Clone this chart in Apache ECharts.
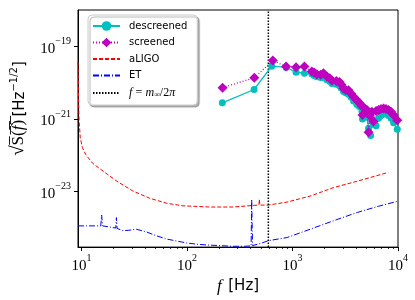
<!DOCTYPE html>
<html><head><meta charset="utf-8">
<script src="https://cdn.jsdelivr.net/npm/echarts@6/dist/echarts.min.js"></script>
<style>html,body{margin:0;padding:0;background:#fff}#c{width:415px;height:300px}</style>
</head><body><div id="c"></div>
<script>
// ---- data ----
const descF = [216, 432, 635, 869, 1081, 1297, 1524, 1600, 1701, 1850, 1965, 2118, 2250, 2362, 2600, 2789, 2900, 3042, 3200, 3395, 3600, 3787, 4080, 4300, 4550, 4610, 4800, 5080, 5260, 5500, 5660, 5860, 6200, 6540, 6900, 7300, 7700, 8140, 8600, 9080, 9840];
const descS = [2.79e-21, 6.5e-21, 2.84e-20, 2.63e-20, 1.95e-20, 1.82e-20, 1.74e-20, 1.58e-20, 1.45e-20, 1.38e-20, 1.38e-20, 1.2e-20, 1.1e-20, 9.5e-21, 9.1e-21, 8.3e-21, 7.2e-21, 5.75e-21, 5.25e-21, 4.8e-21, 4.0e-21, 3.16e-21, 2.5e-21, 2.2e-21, 1.66e-21, 1.0e-21, 1.41e-21, 1.12e-21, 5.6e-22, 3.5e-22, 8.9e-22, 7.1e-22, 6.5e-22, 1.05e-21, 1.26e-21, 1.38e-21, 1.38e-21, 1.26e-21, 1.05e-21, 7.9e-22, 5.2e-22];
const scrF = [217, 434, 650, 869, 1081, 1297, 1524, 1600, 1701, 1850, 1965, 2118, 2250, 2362, 2600, 2789, 2900, 3042, 3200, 3395, 3600, 3787, 4080, 4300, 4550, 4610, 4800, 5080, 5260, 5400, 5660, 5860, 6200, 6540, 6900, 7300, 7700, 8140, 8600, 9080, 9840];
const scrS = [7.3e-21, 1.37e-20, 4.07e-20, 2.79e-20, 2.67e-20, 2.79e-20, 2.04e-20, 1.9e-20, 1.70e-20, 1.66e-20, 1.82e-20, 1.48e-20, 1.32e-20, 1.15e-20, 1.12e-20, 1.05e-20, 8.9e-21, 6.9e-21, 6.3e-21, 6.2e-21, 5.0e-21, 4.1e-21, 3.3e-21, 2.8e-21, 2.24e-21, 1.29e-21, 2.0e-21, 1.78e-21, 4.3e-22, 1.26e-21, 1.58e-21, 8.5e-22, 1.66e-21, 1.78e-21, 1.9e-21, 1.95e-21, 1.9e-21, 1.78e-21, 1.58e-21, 1.29e-21, 9.3e-22];
const ligoF = [9.25, 9.37, 9.47, 9.72, 10.2, 10.96, 12.78, 14.9, 21.6, 30.6, 44.4, 64.4, 91.4, 165, 273, 423, 480, 485, 490, 590, 889, 1469, 2427, 4103, 8078];
const ligoS = [3.6e-20, 3.3e-21, 9.3e-22, 3.0e-22, 1.62e-22, 1.05e-22, 6.0e-23, 4.3e-23, 1.95e-23, 1.05e-23, 6.6e-24, 4.8e-24, 4.1e-24, 3.8e-24, 3.8e-24, 4.2e-24, 4.3e-24, 6.2e-24, 4.3e-24, 4.3e-24, 5.2e-24, 7.6e-24, 1.29e-23, 1.95e-23, 3.4e-23];
const etF = [9.25, 12, 15.2, 15.5, 15.8, 18.5, 21.1, 21.4, 21.7, 24.6, 28, 33, 41, 50, 64, 80, 99, 130, 165, 273, 350, 405, 410, 418, 500, 590, 889, 1469, 2427, 4103, 6500, 10000];
const etS = [1.15e-24, 1.15e-24, 1.15e-24, 2.29e-24, 1.15e-24, 1.07e-24, 1.0e-24, 1.95e-24, 9.8e-25, 8.5e-25, 8.7e-25, 9.3e-25, 7.9e-25, 6.3e-25, 5.0e-25, 4.4e-25, 3.9e-25, 3.55e-25, 3.4e-25, 3.16e-25, 3.16e-25, 3.24e-25, 6.2e-24, 3.3e-25, 3.8e-25, 4.5e-25, 5.5e-25, 9.3e-25, 1.58e-24, 2.69e-24, 3.98e-24, 5.5e-24];
const fCut = 590;
const xRange = [9.25, 1e4];
const yRange = [3e-25, 1e-18];
const xMajor = [10, 100, 1000, 10000];
const xMinor = [20, 30, 40, 50, 60, 70, 80, 90, 200, 300, 400, 500, 600, 700, 800, 900, 2000, 3000, 4000, 5000, 6000, 7000, 8000, 9000];
const yMajor = [1e-23, 1e-21, 1e-19];

const pairs = (a, b) => a.map((v, i) => [v, b[i]]);
const SERIF = 'Liberation Serif';
const SANS = 'DejaVu Sans';
const powRich = {
  b: {fontFamily: SERIF, fontSize: 15, color: '#000', padding: [5, 0, 0, 0], verticalAlign: 'bottom'},
  s: {fontFamily: SERIF, fontSize: 10, color: '#000', verticalAlign: 'top'}
};
const powFmt = v => {
  const e = Math.round(Math.log10(v));
  return '{b|10}{s|' + (e < 0 ? '\u2212' + (-e) : e) + '}';
};
const noSym = {opacity: 0};

const chart = echarts.init(document.getElementById('c'), null, {renderer: 'canvas'});
chart.setOption({
  animation: false,
  backgroundColor: '#fff',
  grid: {left: 78, right: 17, top: 10, bottom: 52, show: true, borderColor: '#000', borderWidth: 1, backgroundColor: 'transparent'},
  legend: {
    left: 88, top: 15, orient: 'vertical',
    data: [
      {name: 'descreened'}, {name: 'screened'},
      {name: 'aLIGO', itemStyle: noSym}, {name: 'ET', itemStyle: noSym}, {name: 'fcut', itemStyle: noSym}
    ],
    itemWidth: 27, itemHeight: 12, itemGap: 6.5,
    padding: [6, 10, 6, 4],
    backgroundColor: '#fff', borderColor: '#ccc', borderWidth: 1, borderRadius: 4,
    shadowColor: 'rgba(0,0,0,0.3)', shadowBlur: 1, shadowOffsetX: 2, shadowOffsetY: 2,
    textStyle: {
      fontFamily: SANS, fontSize: 10, color: '#000', padding: [0, 0, 0, 4],
      rich: {
        i: {fontFamily: SERIF, fontStyle: 'italic', fontSize: 12, color: '#000'},
        r: {fontFamily: SERIF, fontSize: 12, color: '#000'},
        sub: {fontFamily: SERIF, fontSize: 8, color: '#000', verticalAlign: 'bottom'}
      }
    },
    formatter: n => n === 'fcut' ? '{i|f} {r|=} {i|m}{sub|\u221e}{r|/2}{i|\u03c0}' : n
  },
  xAxis: [{
    type: 'log', min: xRange[0], max: xRange[1], position: 'bottom',
    axisLine: {show: true, lineStyle: {color: '#000', width: 1}},
    axisTick: {show: true, length: 4, customValues: xMajor, lineStyle: {color: '#000', width: 1}},
    axisLabel: {customValues: xMajor, formatter: powFmt, rich: powRich, margin: 6},
    splitLine: {show: false}, minorTick: {show: false},
    name: '{i|f}  {h|[Hz]}', nameLocation: 'middle', nameGap: 25,
    nameTextStyle: {rich: {
      i: {fontFamily: SERIF, fontStyle: 'italic', fontSize: 17, color: '#000'},
      h: {fontFamily: SANS, fontSize: 15, color: '#000'}
    }}
  }, {
    type: 'log', min: xRange[0], max: xRange[1], position: 'bottom',
    axisLine: {show: false},
    axisTick: {show: true, length: 2, customValues: xMinor, lineStyle: {color: '#000', width: 0.8}},
    axisLabel: {show: false}, splitLine: {show: false}
  }],
  yAxis: {
    type: 'log', min: yRange[0], max: yRange[1],
    axisLine: {show: true, lineStyle: {color: '#000', width: 1}},
    axisTick: {show: true, length: 4, customValues: yMajor, lineStyle: {color: '#000', width: 1}},
    axisLabel: {customValues: yMajor, formatter: powFmt, rich: powRich, margin: 7},
    splitLine: {show: false}, minorTick: {show: false},
    name: '{q|\u221a}{o|S\u0305(\u0305}{oi|f\u0305}{o|)\u0305} {h|[Hz}{s|\u22121/2}{h|]}',
    nameLocation: 'middle', nameGap: 50, nameRotate: 90,
    nameTextStyle: {padding: [0, 0, 0, 40], rich: {
      q: {fontFamily: SERIF, fontSize: 19, color: '#000'},
      o: {fontFamily: SERIF, fontSize: 17, color: '#000'},
      oi: {fontFamily: SERIF, fontStyle: 'italic', fontSize: 17, color: '#000'},
      h: {fontFamily: SANS, fontSize: 15, color: '#000', padding: [4, 0, 0, 0]},
      s: {fontFamily: SANS, fontSize: 10, color: '#000', verticalAlign: 'top'}
    }}
  },
  series: [
    {name: 'descreened', type: 'line', data: pairs(descF, descS), symbol: 'circle', symbolSize: 7,
     itemStyle: {color: '#00bfbf'}, lineStyle: {color: '#00bfbf', width: 1.3}, z: 3},
    {name: 'screened', type: 'line', data: pairs(scrF, scrS), symbol: 'diamond', symbolSize: 10,
     itemStyle: {color: '#bf00bf'}, lineStyle: {color: '#bf00bf', width: 1.3, type: [1, 2]}, z: 4},
    {name: 'aLIGO', type: 'line', data: pairs(ligoF, ligoS), symbol: 'none', showSymbol: false,
     lineStyle: {color: '#ff0000', width: 1, type: [4, 2]}, itemStyle: {color: '#ff0000'}, z: 2},
    {name: 'ET', type: 'line', data: pairs(etF, etS), symbol: 'none', showSymbol: false,
     lineStyle: {color: '#0000ff', width: 1, type: [6, 2, 1, 2]}, itemStyle: {color: '#0000ff'}, z: 2},
    {name: 'fcut', type: 'line', data: [[fCut, yRange[0]], [fCut, yRange[1]]], symbol: 'none', showSymbol: false,
     lineStyle: {color: '#000', width: 1.5, type: [1.5, 1.5]}, itemStyle: {color: '#000'}, z: 2}
  ]
});
</script>
</body></html>
